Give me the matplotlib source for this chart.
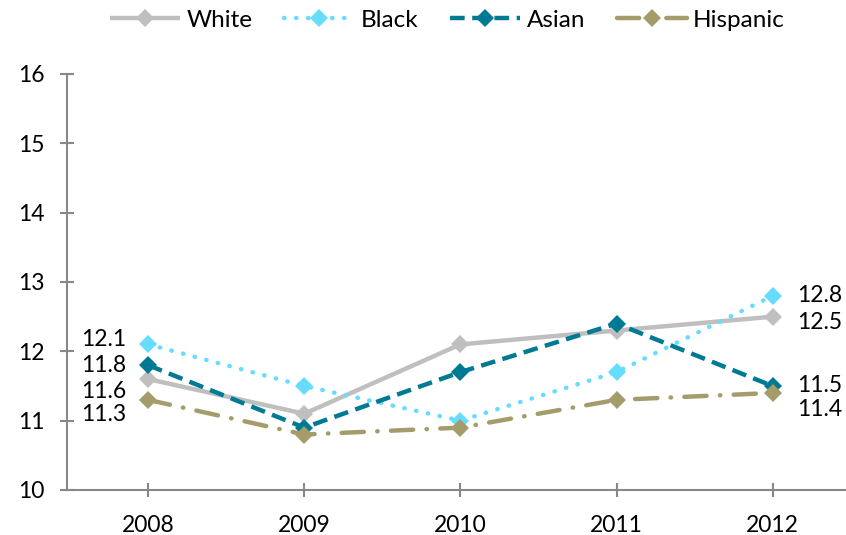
import matplotlib
matplotlib.use("Agg")
import matplotlib.pyplot as plt

plt.rcParams['font.family'] = ['Lato', 'DejaVu Sans']

years = ['2008', '2009', '2010', '2011', '2012']
white = [11.6, 11.1, 12.1, 12.3, 12.5]
black = [12.1, 11.5, 11.0, 11.7, 12.8]
asian = [11.8, 10.9, 11.7, 12.4, 11.5]
hispanic = [11.3, 10.8, 10.9, 11.3, 11.4]

# label nudges (pixels) so the end labels don't overlap
left_nudge = {'White': -12, 'Black': 5, 'Asian': 0, 'Hispanic': -15}
right_nudge = {'White': -6, 'Black': 0, 'Asian': 0, 'Hispanic': -17}

series = [
    ('White', white, '#BFBFBF', '-', 'butt'),
    ('Black', black, '#66DDFF', (0, (0.1, 2.6)), 'round'),
    ('Asian', asian, '#007A94', (0, (3.3, 1.7)), 'butt'),
    ('Hispanic', hispanic, '#A59C6C', (0, (5, 3, 0.1, 3)), 'round'),
]

fig = plt.figure(figsize=(8.46, 5.35), dpi=100)
ax = fig.add_axes([67/846, 45/535, 779/846, 416/535])

x = list(range(len(years)))
for name, vals, col, ls, cap in series:
    ax.plot(x, vals, color=col, linestyle=ls, linewidth=3.2,
            dash_capstyle=cap, solid_capstyle='butt',
            marker='D', markersize=9.5, markeredgewidth=0, label=name)
    ax.annotate(f"{vals[0]:.1f}", (x[0], vals[0]), xytext=(-22, left_nudge[name]),
                textcoords='offset pixels', ha='right', va='center', fontsize=16.5)
    ax.annotate(f"{vals[-1]:.1f}", (x[-1], vals[-1]), xytext=(24, right_nudge[name]),
                textcoords='offset pixels', ha='left', va='center', fontsize=16.5)

ax.set_xlim(-0.52, 4.47)
ax.set_ylim(10, 16)
ax.set_xticks(x)
ax.set_xticklabels(years)
ax.set_yticks(range(10, 17))

for s in ['top', 'right']:
    ax.spines[s].set_visible(False)
for s in ['left', 'bottom']:
    ax.spines[s].set_color('#888888')
    ax.spines[s].set_linewidth(1.5)
ax.tick_params(axis='both', direction='inout', length=10, width=1.5,
               color='#888888', labelsize=16.5)
ax.tick_params(axis='x', pad=13)
ax.tick_params(axis='y', pad=11)

fig.legend(loc='center', bbox_to_anchor=(0.529, 1 - 20/535),
           ncol=4, frameon=False, fontsize=17.5, handlelength=2.9,
           columnspacing=1.3, handletextpad=0.25, borderaxespad=0)

fig.savefig('out.png', dpi=100)
